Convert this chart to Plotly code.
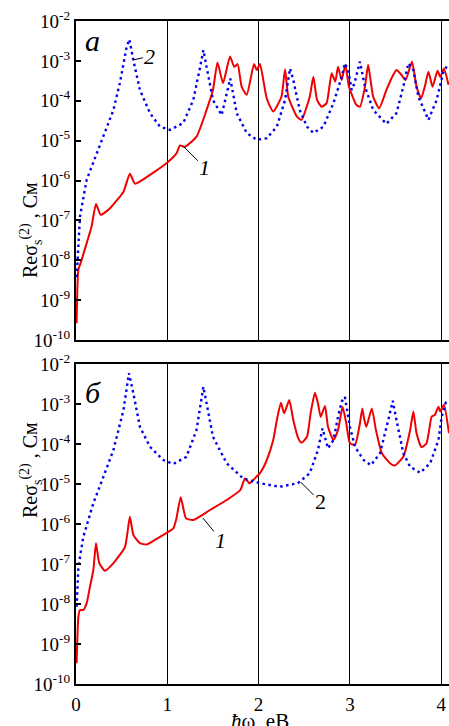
import plotly.graph_objects as go

# ---------------- data (x in eV, y = log10(Re sigma) ) ----------------
a_blue_x = [0.007, 0.044, 0.117, 0.227, 0.30, 0.41, 0.48, 0.555, 0.584, 0.628, 0.70, 0.81, 0.92, 1.03,
            1.175, 1.285, 1.36, 1.395, 1.43, 1.50, 1.595, 1.69, 1.76, 1.87, 1.98, 2.09, 2.20, 2.29, 2.344,
            2.38, 2.45, 2.53, 2.60, 2.71, 2.82, 2.91, 2.945, 2.98, 3.02, 3.05, 3.11, 3.165, 3.255, 3.40,
            3.51, 3.585, 3.64, 3.695, 3.75, 3.86, 3.95, 4.02, 4.06, 4.09]
a_blue_y = [-8.42, -6.9, -5.98, -5.31, -4.9, -4.23, -3.56, -2.65, -2.46, -2.98, -3.73, -4.31, -4.65, -4.73,
            -4.56, -3.98, -3.15, -2.73, -3.15, -3.98, -4.36, -3.44, -4.31, -4.81, -4.98, -4.94, -4.65, -3.98, -3.19,
            -3.48, -4.23, -4.65, -4.81, -4.65, -4.06, -3.4, -3.06, -3.23, -3.73, -3.56, -3.02, -3.65, -4.23, -4.58,
            -4.31, -3.65, -3.06, -3.23, -3.9, -4.48, -3.98, -3.31, -3.14, -3.2]

a_red_x = [0.007, 0.026, 0.062, 0.117, 0.17, 0.219, 0.27, 0.37, 0.52, 0.59, 0.646, 0.81, 0.99, 1.10, 1.14,
           1.19, 1.32, 1.43, 1.50, 1.55, 1.61, 1.687, 1.733, 1.77, 1.815, 1.87, 1.95, 1.98, 2.015, 2.09,
           2.16, 2.25, 2.29, 2.325, 2.42, 2.47, 2.56, 2.60, 2.64, 2.69, 2.745, 2.80, 2.84, 2.87, 2.91, 2.95,
           2.99, 3.07, 3.11, 3.165, 3.20, 3.255, 3.32, 3.40, 3.455, 3.51, 3.55, 3.61, 3.68, 3.73, 3.78, 3.82,
           3.86, 3.905, 3.96, 3.99, 4.03, 4.08]
a_red_y = [-9.58, -8.24, -7.99, -7.57, -7.16, -6.59, -6.86, -6.7, -6.28, -5.83, -6.08, -5.86, -5.57, -5.32, -5.12,
           -5.16, -4.9, -4.23, -3.73, -3.04, -3.56, -2.89, -3.15, -3.08, -3.65, -3.85, -3.08, -3.23, -3.08, -3.95,
           -4.27, -3.9, -3.21, -3.9, -4.4, -4.48, -3.9, -3.4, -3.98, -4.15, -4.06, -3.31, -3.52, -3.15, -3.48, -3.1,
           -3.65, -4.1, -4.15, -3.65, -3.1, -3.9, -4.19, -3.73, -3.44, -3.23, -3.31, -3.48, -3.02, -3.65, -3.94, -3.65,
           -3.27, -3.65, -3.25, -3.4, -3.19, -3.6]

b_blue_x = [0.007, 0.026, 0.08, 0.19, 0.30, 0.41, 0.52, 0.58, 0.628, 0.70, 0.81, 0.956, 1.066, 1.21, 1.32,
            1.395, 1.43, 1.50, 1.65, 1.83, 2.015, 2.23, 2.43, 2.56, 2.65, 2.70, 2.76, 2.82, 2.87, 2.91, 2.945,
            3.00, 3.056, 3.15, 3.23, 3.33, 3.42, 3.47, 3.51, 3.585, 3.66, 3.77, 3.88, 3.97, 4.005, 4.05, 4.085]
b_blue_y = [-8.07, -7.07, -6.32, -5.48, -4.82, -4.15, -3.15, -2.23, -2.73, -3.57, -4.07, -4.4, -4.5, -4.32, -3.65,
            -2.57, -2.98, -3.82, -4.48, -4.86, -4.98, -5.07, -4.98, -4.73, -4.15, -3.61, -4.11, -3.9, -3.32, -2.94, -2.82,
            -3.57, -4.07, -4.4, -4.53, -4.23, -3.4, -2.92, -3.4, -4.23, -4.57, -4.72, -4.48, -3.9, -3.32, -2.97, -3.02]

b_red_x = [0.007, 0.026, 0.044, 0.08, 0.117, 0.153, 0.19, 0.219, 0.255, 0.318, 0.41, 0.537, 0.59, 0.628, 0.70,
           0.774, 0.92, 1.066, 1.10, 1.147, 1.205, 1.285, 1.468, 1.65, 1.80, 1.85, 1.90, 1.94, 2.015, 2.09,
           2.16, 2.20, 2.245, 2.28, 2.336, 2.38, 2.435, 2.47, 2.53, 2.57, 2.617, 2.65, 2.68, 2.727, 2.76, 2.82,
           2.87, 2.92, 2.96, 3.00, 3.056, 3.11, 3.136, 3.155, 3.18, 3.24, 3.285, 3.35, 3.44, 3.49, 3.585, 3.66,
           3.695, 3.73, 3.785, 3.84, 3.895, 3.93, 3.97, 3.99, 4.03, 4.085]
b_red_y = [-9.48, -8.32, -8.15, -8.15, -7.98, -7.57, -7.15, -6.48, -6.98, -7.17, -6.98, -6.57, -5.82, -6.27, -6.48,
           -6.51, -6.32, -6.11, -5.86, -5.33, -5.86, -5.9, -5.65, -5.4, -5.15, -4.86, -4.98, -4.9, -4.73, -4.4,
           -3.9, -3.4, -2.97, -3.23, -2.9, -3.4, -3.86, -3.97, -3.82, -3.23, -2.72, -2.98, -3.32, -3.05, -3.57, -3.9,
           -3.65, -3.07, -3.48, -3.98, -4.02, -3.48, -3.11, -3.36, -3.57, -3.11, -3.65, -4.23, -4.48, -4.54, -4.32, -3.65,
           -3.19, -3.73, -4.08, -3.98, -3.32, -3.27, -3.07, -3.19, -3.02, -3.73]

ytick_exp = [-2, -3, -4, -5, -6, -7, -8, -9, -10]
xtick_vals = [0, 1, 2, 3, 4]

def pw(v):
    return [10 ** e for e in v]

FONT = "Liberation Serif"
RED = "rgb(240,0,0)"
BLUE = "rgb(0,0,235)"
red_line = dict(color=RED, width=2, shape="spline", smoothing=0.5)
blue_line = dict(color=BLUE, width=2.4, dash="2.5px,3.5px")

fig = go.Figure()
fig.add_trace(go.Scatter(x=a_red_x, y=pw(a_red_y), mode="lines", line=red_line,
                         xaxis="x", yaxis="y", showlegend=False))
fig.add_trace(go.Scatter(x=a_blue_x, y=pw(a_blue_y), mode="lines", line=blue_line,
                         xaxis="x", yaxis="y", showlegend=False))
fig.add_trace(go.Scatter(x=b_red_x, y=pw(b_red_y), mode="lines", line=red_line,
                         xaxis="x2", yaxis="y2", showlegend=False))
fig.add_trace(go.Scatter(x=b_blue_x, y=pw(b_blue_y), mode="lines", line=blue_line,
                         xaxis="x2", yaxis="y2", showlegend=False))

W, H = 449, 726
xdom = [76 / W, 1.0]
xr = [0, (449 - 76) / 91.3]
ydom_a = [1 - 340 / H, 1 - 21 / H]
ydom_b = [1 - 684 / H, 1 - 364 / H]

tickvals = [10 ** e for e in ytick_exp]
ticktext = ["10<sup>%d</sup>" % e for e in ytick_exp]

common_x = dict(domain=xdom, range=xr, showgrid=True, gridcolor="black", gridwidth=1,
                tickvals=xtick_vals, showline=True, linecolor="black", linewidth=2, mirror=True,
                zeroline=False, ticks="", automargin=False)
common_y = dict(type="log", range=[-10, -2], showgrid=False, showline=True, linecolor="black",
                linewidth=2, ticks="inside", ticklen=5, tickwidth=1.5, tickcolor="black",
                tickvals=tickvals, ticktext=ticktext, zeroline=False, automargin=False,
                tickfont=dict(family=FONT, size=19, color="black"))

fig.update_layout(
    width=W, height=H, margin=dict(l=0, r=0, t=0, b=0, autoexpand=False),
    paper_bgcolor="white", plot_bgcolor="white",
    font=dict(family=FONT, color="black"),
    xaxis=dict(common_x, anchor="y", showticklabels=False),
    yaxis=dict(common_y, domain=ydom_a, anchor="x"),
    xaxis2=dict(common_x, anchor="y2", showticklabels=True, ticklabelstandoff=2,
                tickfont=dict(family=FONT, size=19, color="black")),
    yaxis2=dict(common_y, domain=ydom_b, anchor="x2"),
)

ann = []
# panel letters
ann.append(dict(xref="paper", yref="paper", x=83 / W, y=1 - 40 / H, text="<i>а</i>", showarrow=False,
                xanchor="left", yanchor="middle", font=dict(family=FONT, size=30)))
ann.append(dict(xref="paper", yref="paper", x=83 / W, y=1 - 392 / H, text="<i>б</i>", showarrow=False,
                xanchor="left", yanchor="middle", font=dict(family=FONT, size=30)))
# y titles
ytitle = "Reσ<sub>s</sub><sup>(2)</sup> , См"
for yc in [180, 520]:
    ann.append(dict(xref="paper", yref="paper", x=15 / W, y=1 - yc / H, text=ytitle, showarrow=False,
                    textangle=-90, font=dict(family=FONT, size=20)))
# x title
ann.append(dict(xref="paper", yref="paper", x=260 / W, y=1 - 721 / H, text="<i>ħ</i>ω, eB", showarrow=False,
                yanchor="middle", font=dict(family=FONT, size=21)))
# curve labels with leader lines
labels = [("x", "y", 0.624, -2.98, "<i>2</i>", 17, -4),
          ("x", "y", 1.17, -5.13, "<i>1</i>", 22, 22),
          ("x2", "y2", 1.39, -5.85, "<i>1</i>", 18, 22),
          ("x2", "y2", 2.46, -4.95, "2", 20, 20)]
for xr_, yr_, xv, yv, t, ax, ay in labels:
    ann.append(dict(xref=xr_, yref=yr_, x=xv, y=yv, text=t, showarrow=True, arrowhead=0, arrowwidth=1,
                    arrowcolor="black", ax=ax, ay=ay, font=dict(family=FONT, size=22)))
fig.update_layout(annotations=ann)

fig.write_html("out.html")
